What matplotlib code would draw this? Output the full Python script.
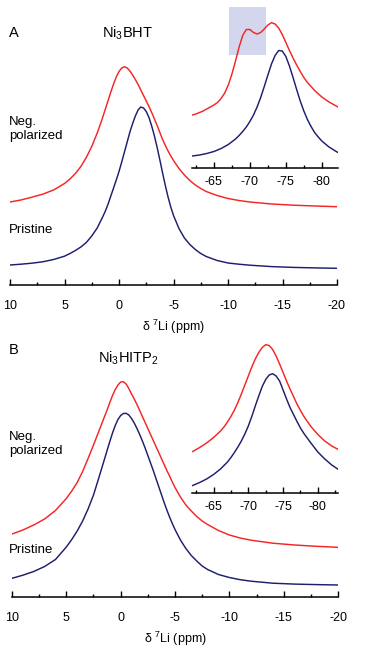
import matplotlib
matplotlib.use("Agg")
import matplotlib.pyplot as plt
from matplotlib.ticker import MultipleLocator

plt.rcParams['font.family'] = ['Liberation Sans', 'DejaVu Sans']
plt.rcParams['mathtext.default'] = 'regular'

RED = '#f52525'
NAVY = '#1e1e6e'

# ---- main spectra, common ppm axis (intensity in a.u.)
ppm_main = [10, 9, 8, 7, 6, 5, 4.5, 4, 3.5, 3, 2.5, 2,
            1.75, 1.5, 1.25, 1, 0.75, 0.5, 0.25, 0, -0.25, -0.5, -0.75, -1, -1.25, -1.5,
            -1.75, -2, -2.25, -2.5, -2.75, -3, -3.25, -3.5, -3.75, -4, -4.25, -4.5, -4.75, -5,
            -5.5, -6, -6.5, -7, -7.5, -8, -9, -10, -11, -12, -14, -16, -18, -20]

# panel A  (Ni3BHT)
a_neg = [83, 85, 87.8, 90.8, 95, 101.5, 106, 111.5, 118.5, 127.5, 138.5, 152,
         159.5, 167.5, 176, 184.5, 193, 201, 208, 213.5, 217, 218.3, 217, 214, 210, 205.5,
         200.5, 195, 189.5, 184, 178.5, 172.5, 166, 159.5, 152.5, 145.5, 139.5, 134, 129, 124.5,
         116.5, 110, 104.5, 100, 96.5, 93.5, 89.5, 86.5, 84.5, 83, 81, 79.8, 79, 78.3]
a_pri = [20, 20.8, 21.8, 23.2, 25.5, 28.8, 31.5, 34.5, 38, 42.5, 49, 57,
         62.5, 68, 74, 81, 89, 97, 105, 113.5, 123, 133, 143, 153, 161.5, 169,
         175, 178, 177, 173.5, 167.5, 159, 149, 137.5, 125, 112, 99.5, 88, 78, 69.5,
         56.5, 47, 40.5, 35.5, 31.5, 28.5, 24.5, 22, 20.8, 19.8, 18.4, 17.6, 17.1, 16.7]

# panel B  (Ni3HITP2)
b_neg = [63, 67, 72, 78, 86.5, 98.5, 106, 114.5, 125.5, 138.5, 152, 166,
         173, 180, 187, 194.5, 201.5, 207.5, 212, 215, 215.3, 213, 208.5, 203, 198, 192.5,
         186.5, 180.5, 174.5, 168.5, 162.5, 156.5, 150.5, 144.5, 138.5, 132.5, 126.5, 121, 115, 109.5,
         100, 92, 86, 80.5, 76, 72.5, 66.5, 62, 59, 56.8, 53.8, 52, 50.7, 49.7]
b_pri = [18.7, 21.8, 25.5, 30.5, 37.5, 50, 57.5, 66, 76, 88, 102, 119.5,
         128.5, 137.5, 146.5, 155.5, 164, 171.5, 177.5, 181.5, 183.5, 183.7, 182, 178.5, 174, 168.5,
         162.5, 156, 149, 141.5, 134, 126.5, 118.5, 110.5, 102.5, 94.5, 87, 80, 73.5, 67.5,
         57, 48.5, 41.5, 36, 31, 27.5, 22.5, 19.5, 17.3, 15.8, 13.8, 12.9, 12.4, 12]

# ---- inset A
ppm_ia_neg = [-62, -62.5, -63, -63.5, -64, -64.5, -65, -65.5, -66, -66.5, -67, -67.5, -68,
              -68.5, -69, -69.5, -70, -70.5, -71, -71.5, -72, -72.5, -73, -73.5, -74, -74.5,
              -75, -75.5, -76, -76.5, -77, -77.5, -78, -79, -80, -81, -82, -82.5]
ia_neg = [53, 54, 55.5, 57, 59, 61, 63, 65.5, 69.5, 75, 83, 94, 107,
          121, 132.5, 138.5, 138.5, 135.5, 134, 135.5, 139, 143, 145.3, 144, 140, 133.5,
          125.5, 117.5, 110, 103, 96.5, 90.5, 85.5, 77.5, 71, 66, 62, 60]
ppm_ia_pri = [-62, -63, -64, -65, -66, -67, -68, -68.5, -69, -69.5, -70, -70.5, -71, -71.5,
              -72, -72.5, -73, -73.5, -74, -74.5, -75, -75.5, -76, -76.5, -77, -77.5, -78,
              -78.5, -79, -79.5, -80, -81, -82, -82.5]
ia_pri = [12, 13, 14.5, 16.5, 19.5, 23.5, 29, 32.5, 36.5, 41, 46.5, 53, 61, 70.5,
          81.5, 93, 104, 112.5, 117.5, 117, 111.5, 102, 90.5, 78.5, 67, 57, 48.5,
          41.5, 35.5, 31, 27, 21, 16.5, 14.5]
shade_ppm = [-67.1, -72.2]
shade_int = [113, 161]

# ---- inset B
ppm_ib = [-62, -63, -64, -65, -66, -66.5, -67, -67.5, -68, -68.5, -69, -69.5, -70, -70.5,
          -71, -71.5, -72, -72.5, -73, -73.5, -74, -74.5, -75, -75.5, -76, -76.5, -77,
          -77.5, -78, -79, -80, -81, -82, -83]
ib_neg = [41.5, 45.5, 50, 55.5, 62, 66, 71, 76.5, 83, 90.5, 99, 108, 117, 126,
          134, 140.5, 145.5, 148.3, 147.5, 143.5, 137, 129, 120.5, 112, 104, 96.5, 89,
          82.5, 76.5, 66.5, 58.5, 52, 47, 43.3]
ib_pri = [7.5, 10.5, 14, 18.5, 24, 27.5, 31, 35.5, 40.5, 46, 52, 59, 67, 76.5,
          87, 97, 106.5, 113.5, 118, 119.3, 117, 112, 103, 94, 85.5, 78.5, 71.5,
          65, 59.5, 50, 41, 34, 28, 23.3]

W, H = 365, 652
fig = plt.figure(figsize=(W / 100, H / 100), dpi=100)


def px_axes(x0, x1, ybot, ytop):
    return fig.add_axes([x0 / W, 1 - ybot / H, (x1 - x0) / W, (ybot - ytop) / H])


def style(ax, pad, size=9):
    for s in ['top', 'left', 'right']:
        ax.spines[s].set_visible(False)
    ax.spines['bottom'].set_linewidth(1.1)
    ax.set_facecolor('none')
    ax.set_yticks([])
    ax.xaxis.set_major_locator(MultipleLocator(5))
    ax.xaxis.set_minor_locator(MultipleLocator(2.5))
    ax.xaxis.set_major_formatter(lambda v, pos: '%d' % v)
    ax.tick_params(axis='x', which='major', direction='in', length=4, width=1, pad=pad, labelsize=size)
    ax.tick_params(axis='x', which='minor', direction='in', length=2, width=1)


def main_panel(ybot, neg, pri, x0, x1):
    ax = px_axes(x0, x1, ybot, ybot - 245)
    ax.plot(ppm_main, neg, color=RED, lw=1.05)
    ax.plot(ppm_main, pri, color=NAVY, lw=1.05)
    ax.set_xlim(10, -20)
    ax.set_ylim(0, 245)
    style(ax, 11)
    ax.set_xlabel('δ $^{7}$Li (ppm)', fontsize=9, labelpad=4)
    return ax


axA = main_panel(285, a_neg, a_pri, 10, 337)
axB = main_panel(597, b_neg, b_pri, 12, 338)

# insets
insA = px_axes(192, 338, 168, 5)
insA.fill_between(shade_ppm, shade_int[0], shade_int[1], color='#d3d6ec', lw=0, zorder=0)
insA.plot(ppm_ia_neg, ia_neg, color=RED, lw=1.05)
insA.plot(ppm_ia_pri, ia_pri, color=NAVY, lw=1.05)
insA.set_xlim(-61.95, -82.25)
insA.set_ylim(0, 163)
style(insA, 6)

insB = px_axes(192, 338, 493, 330)
insB.plot(ppm_ib, ib_neg, color=RED, lw=1.05)
insB.plot(ppm_ib, ib_pri, color=NAVY, lw=1.05)
insB.set_xlim(-61.9, -82.9)
insB.set_ylim(0, 163)
style(insB, 6)


def ftext(x, y, s, **kw):
    fig.text(x / W, 1 - y / H, s, va='center', **kw)


ftext(9, 33, 'A', fontsize=10.5)
ftext(127, 33, 'Ni$_3$BHT', fontsize=10.5, ha='center')
ftext(9, 129, 'Neg.\npolarized', fontsize=9.5, linespacing=1.15)
ftext(9, 230, 'Pristine', fontsize=9.5)

ftext(9, 350, 'B', fontsize=10.5)
ftext(128, 358, 'Ni$_3$HITP$_2$', fontsize=10.5, ha='center')
ftext(9, 444, 'Neg.\npolarized', fontsize=9.5, linespacing=1.15)
ftext(9, 550, 'Pristine', fontsize=9.5)

fig.savefig('out.png', dpi=100)
